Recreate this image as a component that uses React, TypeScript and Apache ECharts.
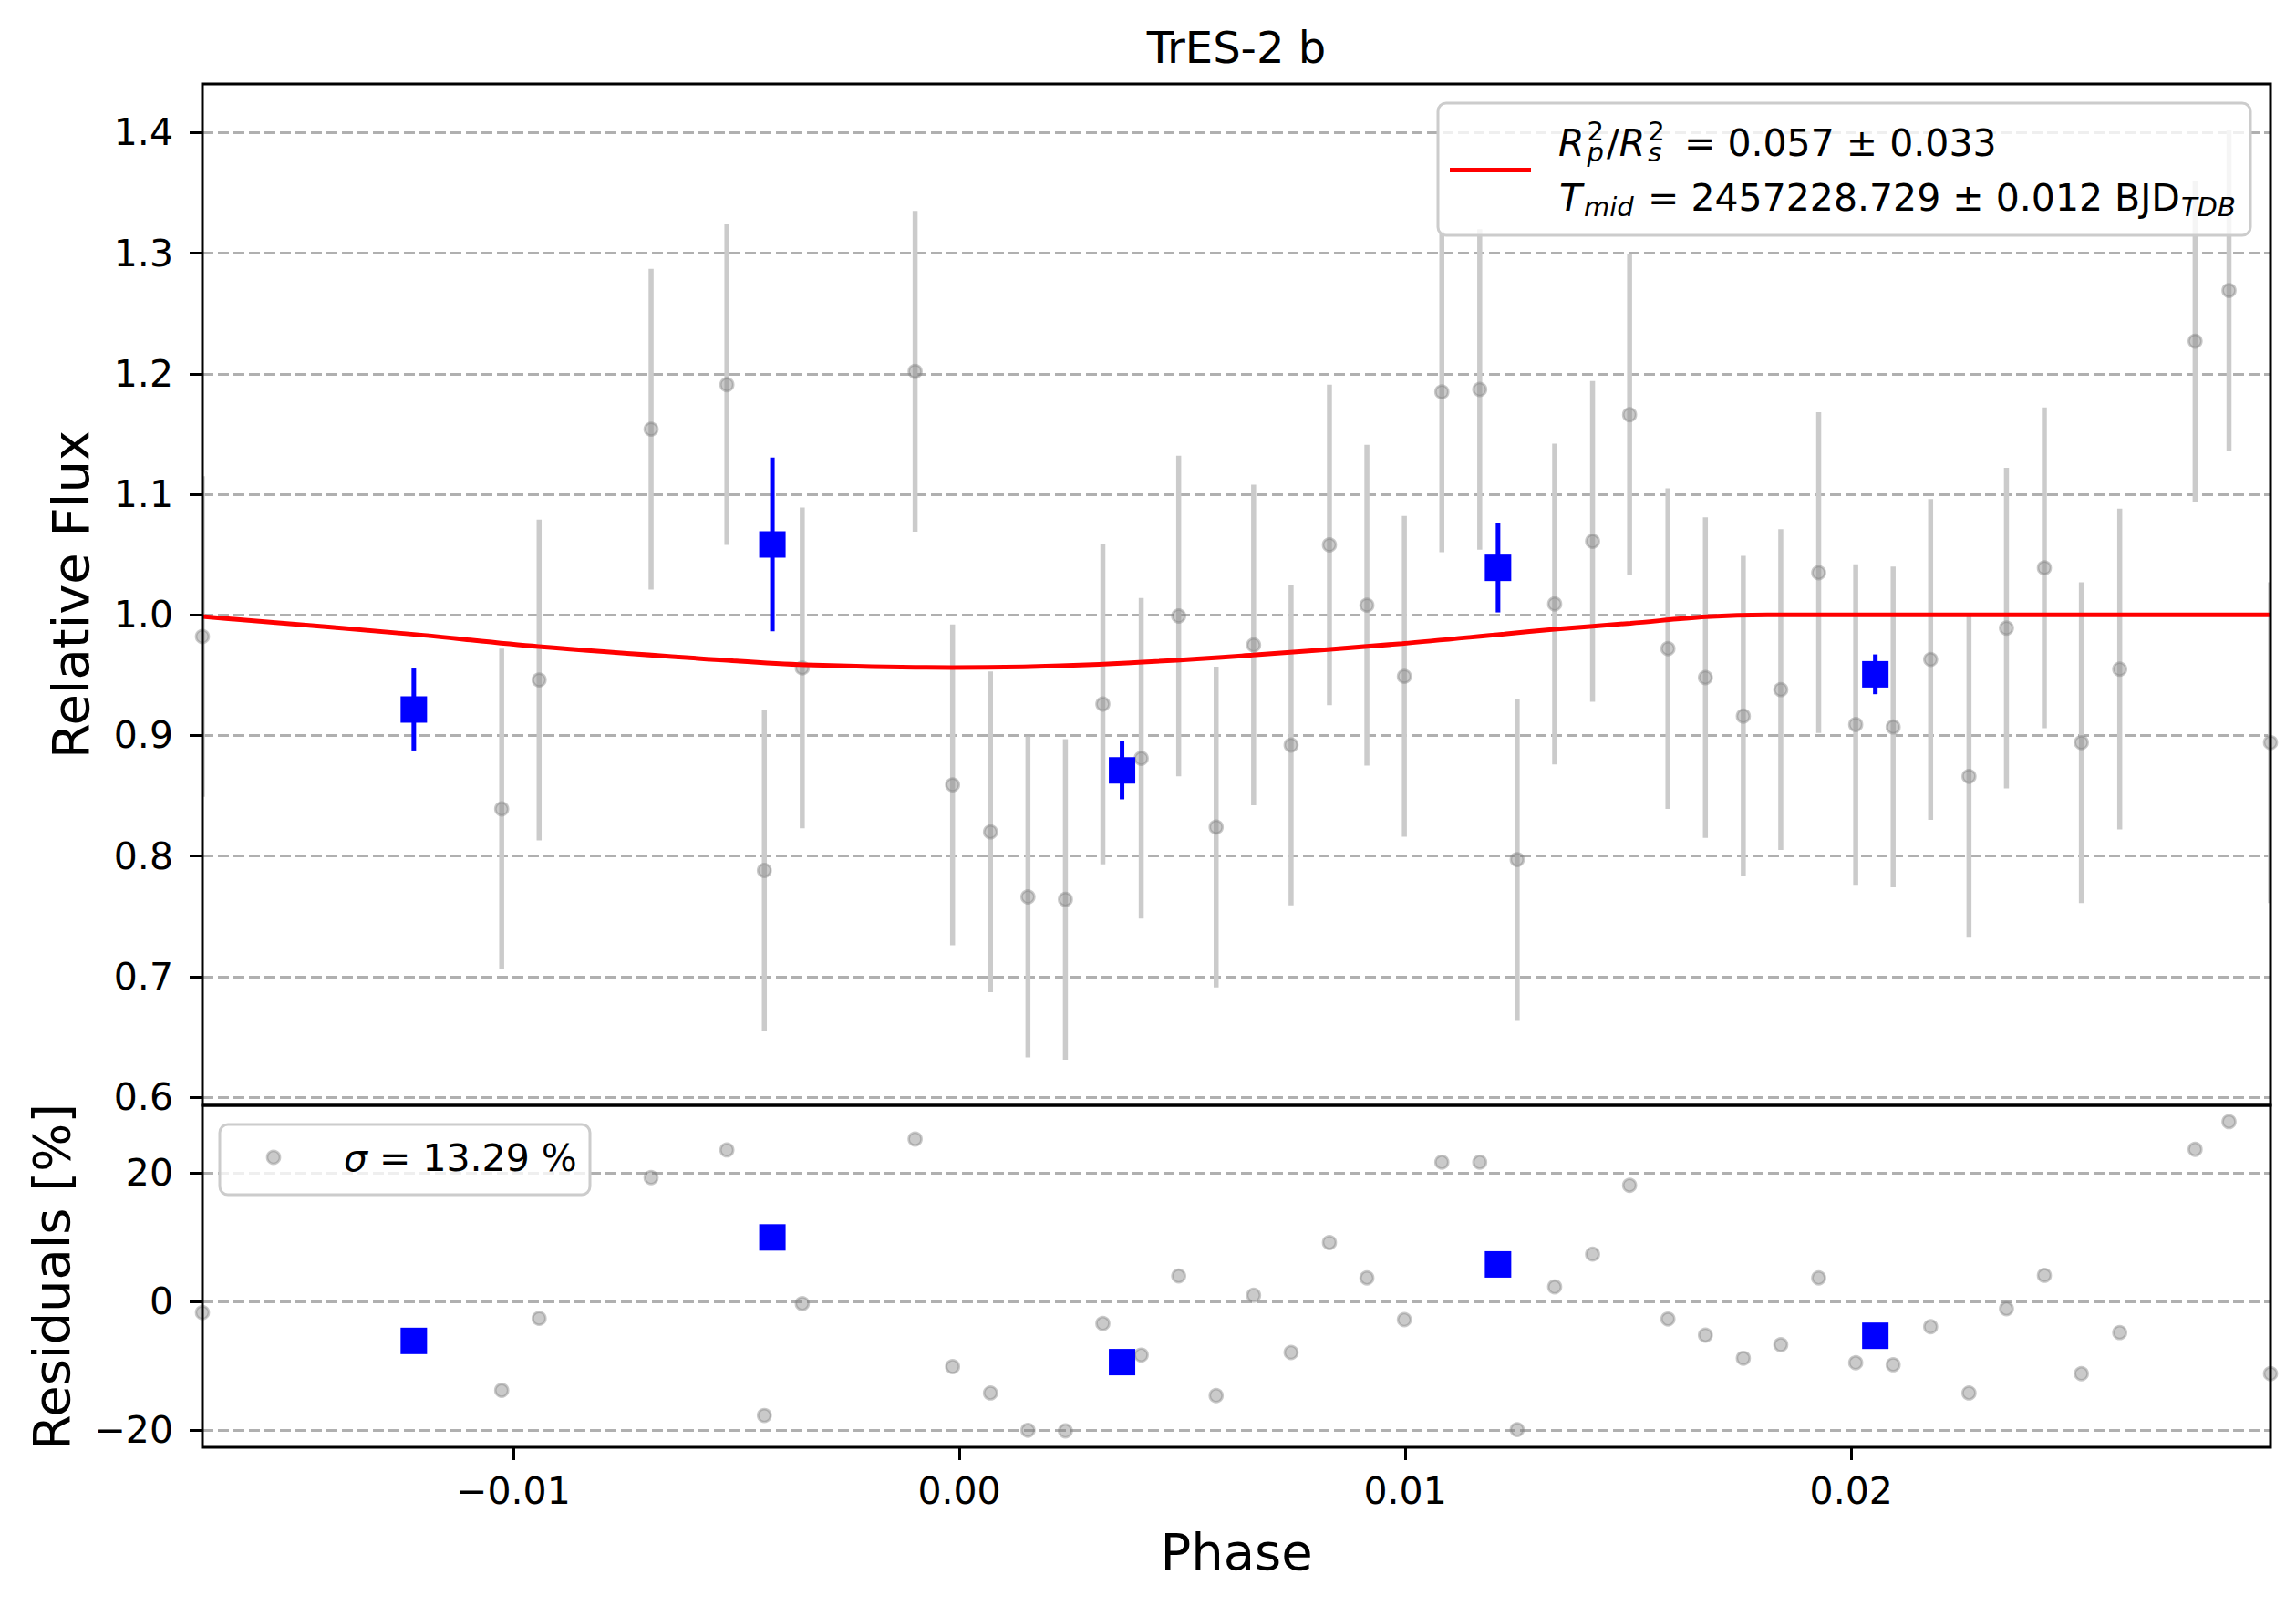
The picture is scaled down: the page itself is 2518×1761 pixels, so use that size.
import { useEffect, useRef } from 'react';
import * as echarts from 'echarts';

/**
 * TrES-2 b phase-folded light curve with residual panel.
 * Top: unbinned flux (grey), binned flux (blue), transit model (red).
 * Bottom: residuals in percent.
 */

const FONT = '"DejaVu Sans", sans-serif';

// unbinned exposures
const rawPhase = [
  -0.01697, -0.01026, -0.00942, -0.00691, -0.00521, -0.00437, -0.00352, -0.00099, -0.00015, 0.0007,
  0.00154, 0.00238, 0.00322, 0.00408, 0.00492, 0.00576, 0.0066, 0.00744, 0.0083, 0.00914,
  0.00998, 0.01082, 0.01167, 0.01251, 0.01335, 0.0142, 0.01503, 0.01589, 0.01673, 0.01758,
  0.01842, 0.01927, 0.0201, 0.02094, 0.02178, 0.02264, 0.02348, 0.02433, 0.02516, 0.02602,
  0.02771, 0.02847, 0.0294,
];
const rawFlux = [
  0.982, 0.839, 0.946, 1.154, 1.191, 0.788, 0.956, 1.202, 0.859, 0.82,
  0.766, 0.764, 0.926, 0.881, 0.999, 0.824, 0.975, 0.892, 1.058, 1.008,
  0.949, 1.185, 1.187, 0.797, 1.009, 1.061, 1.166, 0.972, 0.948, 0.916,
  0.938, 1.035, 0.909, 0.907, 0.963, 0.866, 0.989, 1.039, 0.894, 0.955,
  1.227, 1.269, 0.894,
];
const rawErr = 0.133;
const rawResid = [
  -1.7, -13.8, -2.6, 19.3, 23.6, -17.7, -0.3, 25.3, -10.1, -14.2,
  -20.0, -20.1, -3.4, -8.3, 4.0, -14.6, 1.0, -7.9, 9.2, 3.7,
  -2.8, 21.7, 21.7, -19.9, 2.3, 7.4, 18.1, -2.7, -5.2, -8.8,
  -6.7, 3.7, -9.5, -9.8, -3.9, -14.2, -1.1, 4.1, -11.2, -4.8,
  23.7, 28.0, -11.2,
];

// binned points
const binPhase = [-0.01223, -0.00419, 0.00365, 0.01208, 0.02054];
const binFlux = [0.9215, 1.0584, 0.871, 1.039, 0.9507];
const binErr = [0.034, 0.072, 0.024, 0.037, 0.0165];
const binResid = [-6.1, 10.0, -9.4, 5.8, -5.3];

// transit model
const modelPhase = [
  -0.01697, -0.01223, -0.00943, -0.00509, -0.00345, -0.00016, 0.00314, 0.00658,
  0.00993, 0.01222, 0.01335, 0.01505, 0.01675, 0.01812, 0.0294,
];
const modelFlux = [
  0.9986, 0.9838, 0.9737, 0.962, 0.9586, 0.9563, 0.959, 0.9666,
  0.9762, 0.9841, 0.988, 0.993, 0.9984, 1.0, 1.0,
];

const phaseTicks = [-0.01, 0, 0.01, 0.02];
const fluxTicks = [0.6, 0.7, 0.8, 0.9, 1.0, 1.1, 1.2, 1.3, 1.4];
const residTicks = [-20, 0, 20];

const PHASE_MIN = -0.01697;
const PHASE_MAX = 0.0294;
const FLUX_MIN = 0.5932;
const FLUX_MAX = 1.4404;
const RESID_MIN = -22.65;
const RESID_MAX = 30.54;

const TOP = { left: 222, top: 92, width: 2268, height: 1120 };
const BOT = { left: 222, top: 1212, width: 2268, height: 375 };

const GREY_FACE = 'rgba(128,128,128,0.42)';
const CENTRAL = 0.346; // em-box centre above the alphabetic baseline
const SMALL = 41; // 10pt text
const SCRIPT = 29; // mathtext sub/superscript

const minus = (s: string) => s.replace('-', '\u2212');

const fontOf = (size: number, italic?: boolean) =>
  `${italic ? 'italic ' : ''}${size}px ${FONT}`;

// text placed by its baseline
function label(text: string, x: number, baseline: number, size: number, italic = false, align = 'left') {
  return {
    type: 'text',
    x,
    y: baseline - CENTRAL * size,
    z: 60,
    style: {
      text,
      font: fontOf(size, italic),
      fill: '#000',
      align,
      verticalAlign: 'middle',
      lineHeight: size,
    },
  };
}

interface Seg {
  t?: string;
  size?: number;
  italic?: boolean;
  rise?: number;
  dx?: number;
  at?: number;
  // stacked superscript (upright) over italic subscript
  sup?: string;
  sub?: string;
  // one line of mixed upright / italic pieces
  mix?: [string, boolean][];
}

// poor man's mathtext: lays segments out left to right
function mathLine(segs: Seg[], x0: number, baseline: number, ctx: CanvasRenderingContext2D) {
  const out: any[] = [];
  let x = x0;
  segs.forEach((s) => {
    const start = s.at !== undefined ? s.at : x + (s.dx || 0);
    if (s.sup !== undefined && s.sub !== undefined) {
      ctx.font = fontOf(SCRIPT);
      const w1 = ctx.measureText(s.sup).width;
      ctx.font = fontOf(SCRIPT, true);
      const w2 = ctx.measureText(s.sub).width;
      const supBase = baseline - 17;
      const subBase = baseline + 6;
      const gap = subBase - supBase;
      const centre = (supBase + subBase) / 2 - CENTRAL * SCRIPT;
      const part = { fontSize: SCRIPT, fontFamily: FONT, lineHeight: gap, fill: '#000' };
      out.push({
        type: 'text',
        x: start,
        y: centre,
        z: 60,
        style: {
          text: `{a|${s.sup}}\n{b|${s.sub}}`,
          rich: { a: { ...part }, b: { ...part, fontStyle: 'italic' } },
          align: 'left',
          verticalAlign: 'middle',
        },
      });
      x = start + Math.max(w1, w2);
      return;
    }
    if (s.mix) {
      let w = 0;
      s.mix.forEach(([t, it]) => {
        ctx.font = fontOf(SMALL, it);
        w += ctx.measureText(t).width;
      });
      const part = { fontSize: SMALL, fontFamily: FONT, lineHeight: SMALL, fill: '#000' };
      out.push({
        type: 'text',
        x: start,
        y: baseline - CENTRAL * SMALL,
        z: 60,
        style: {
          text: s.mix.map(([t, it]) => `{${it ? 'i' : 'n'}|${t}}`).join(''),
          rich: { n: { ...part }, i: { ...part, fontStyle: 'italic' } },
          align: 'left',
          verticalAlign: 'middle',
        },
      });
      x = start + w;
      return;
    }
    const size = s.size || SMALL;
    ctx.font = fontOf(size, s.italic);
    const w = ctx.measureText(s.t || '').width;
    out.push(label(s.t || '', start, baseline - (s.rise || 0), size, !!s.italic));
    x = start + w;
  });
  return out;
}

const errorBars = (color: string, width: number) => (params: any, api: any) => {
  const x = api.value(0);
  const y = api.value(1);
  const e = api.value(2);
  const a = api.coord([x, y + e]);
  const b = api.coord([x, y - e]);
  return {
    type: 'line',
    shape: { x1: a[0], y1: a[1], x2: b[0], y2: b[1] },
    style: { stroke: color, lineWidth: width },
  };
};

export default function App() {
  const chartRef = useRef<HTMLDivElement>(null);

  useEffect(() => {
    if (!chartRef.current) return;
    const chart = echarts.init(chartRef.current, undefined, { renderer: 'svg' });

    const ctx = document.createElement('canvas').getContext('2d') as CanvasRenderingContext2D;

    const legendTop = [
      ...mathLine(
        [
          { t: 'R', italic: true },
          { sup: '2', sub: 'p', dx: 3 },
          { mix: [['/', false], ['R', true]], dx: 3 },
          { sup: '2', sub: 's', dx: 3 },
          { t: '= 0.057 \u00b1 0.033', at: 1847 },
        ],
        1709,
        171,
        ctx
      ),
      ...mathLine(
        [
          { t: 'T', italic: true },
          { t: 'mid', size: SCRIPT, italic: true, rise: -6, dx: 2 },
          { t: '= 2457228.729 \u00b1 0.012 BJD', at: 1807 },
          { t: 'TDB', size: SCRIPT, italic: true, rise: -6, dx: 1 },
        ],
        1710,
        231,
        ctx
      ),
    ];

    const legendBottom = mathLine(
      [{ mix: [['\u03c3', true], [' = 13.29 %', false]] }],
      377,
      1284,
      ctx
    );

    const rawTop = rawPhase.map((p, i) => [p, rawFlux[i], rawErr]);
    const binTop = binPhase.map((p, i) => [p, binFlux[i], binErr[i]]);

    const tickStyle = { color: '#000', width: 3 };
    const gridLine = { show: true, lineStyle: { color: '#b0b0b0', width: 3, type: [12, 5] } };
    const tickFont = { color: '#000', fontSize: SMALL, fontFamily: FONT };
    const greyDot = { color: GREY_FACE, borderColor: GREY_FACE, borderWidth: 2.7, opacity: 1 };
    const blueSquare = { color: '#0000ff', opacity: 1 };

    const option: any = {
      animation: false,
      backgroundColor: '#ffffff',
      grid: [
        { ...TOP, containLabel: false, outerBoundsMode: 'none' },
        { ...BOT, containLabel: false, outerBoundsMode: 'none' },
      ],
      xAxis: [
        { type: 'value', gridIndex: 0, min: PHASE_MIN, max: PHASE_MAX, show: false },
        {
          type: 'value',
          gridIndex: 1,
          min: PHASE_MIN,
          max: PHASE_MAX,
          position: 'bottom',
          axisLine: { show: false, onZero: false },
          axisTick: { show: true, customValues: phaseTicks, length: 14, lineStyle: tickStyle },
          axisLabel: {
            ...tickFont,
            customValues: phaseTicks,
            margin: 27,
            formatter: (v: number) => minus(v.toFixed(2)),
          },
          splitLine: { show: false },
        },
      ],
      yAxis: [
        {
          type: 'value',
          gridIndex: 0,
          min: FLUX_MIN,
          max: FLUX_MAX,
          position: 'left',
          axisLine: { show: false, onZero: false },
          axisTick: { show: true, customValues: fluxTicks, length: 14, lineStyle: tickStyle },
          axisLabel: {
            ...tickFont,
            customValues: fluxTicks,
            margin: 32,
            formatter: (v: number) => v.toFixed(1),
          },
          splitLine: gridLine,
        },
        {
          type: 'value',
          gridIndex: 1,
          min: RESID_MIN,
          max: RESID_MAX,
          position: 'left',
          axisLine: { show: false, onZero: false },
          axisTick: { show: true, customValues: residTicks, length: 14, lineStyle: tickStyle },
          axisLabel: {
            ...tickFont,
            customValues: residTicks,
            margin: 32,
            formatter: (v: number) => minus(String(Math.round(v))),
          },
          splitLine: gridLine,
        },
      ],
      series: [
        {
          type: 'custom',
          xAxisIndex: 0,
          yAxisIndex: 0,
          clip: true,
          data: rawTop,
          encode: { x: 0, y: 1 },
          renderItem: errorBars('#cbcbcb', 5.5),
          silent: true,
        },
        {
          type: 'scatter',
          xAxisIndex: 0,
          yAxisIndex: 0,
          data: rawTop.map((d) => [d[0], d[1]]),
          symbol: 'circle',
          symbolSize: 14,
          itemStyle: greyDot,
          silent: true,
        },
        {
          type: 'custom',
          xAxisIndex: 0,
          yAxisIndex: 0,
          clip: true,
          data: binTop,
          encode: { x: 0, y: 1 },
          renderItem: errorBars('#0000ff', 5),
          silent: true,
        },
        {
          type: 'scatter',
          xAxisIndex: 0,
          yAxisIndex: 0,
          data: binTop.map((d) => [d[0], d[1]]),
          symbol: 'rect',
          symbolSize: 29,
          itemStyle: blueSquare,
          silent: true,
        },
        {
          type: 'line',
          xAxisIndex: 0,
          yAxisIndex: 0,
          data: modelPhase.map((p, i) => [p, modelFlux[i]]),
          showSymbol: false,
          smooth: 0.35,
          lineStyle: { color: '#ff0000', width: 5, opacity: 1 },
          silent: true,
          z: 4,
        },
        {
          type: 'scatter',
          xAxisIndex: 1,
          yAxisIndex: 1,
          data: rawPhase.map((p, i) => [p, rawResid[i]]),
          symbol: 'circle',
          symbolSize: 14,
          itemStyle: greyDot,
          silent: true,
        },
        {
          type: 'scatter',
          xAxisIndex: 1,
          yAxisIndex: 1,
          data: binPhase.map((p, i) => [p, binResid[i]]),
          symbol: 'rect',
          symbolSize: 29,
          itemStyle: blueSquare,
          silent: true,
        },
      ],
      graphic: [
        // axes frames
        {
          type: 'rect',
          z: 55,
          shape: { x: TOP.left, y: TOP.top, width: TOP.width, height: TOP.height },
          style: { fill: 'none', stroke: '#000', lineWidth: 3 },
          silent: true,
        },
        {
          type: 'rect',
          z: 55,
          shape: { x: BOT.left, y: BOT.top, width: BOT.width, height: BOT.height },
          style: { fill: 'none', stroke: '#000', lineWidth: 3 },
          silent: true,
        },
        // title and axis names
        label('TrES-2 b', 1356, 69, 48, false, 'center'),
        label('Phase', 1356, 1721, 56, false, 'center'),
        {
          type: 'text',
          x: 97 - CENTRAL * 56,
          y: 652,
          rotation: Math.PI / 2,
          z: 60,
          style: { text: 'Relative Flux', font: fontOf(56), fill: '#000', align: 'center', verticalAlign: 'middle' },
        },
        {
          type: 'text',
          x: 76 - CENTRAL * 56,
          y: 1400,
          rotation: Math.PI / 2,
          z: 60,
          style: { text: 'Residuals [%]', font: fontOf(56), fill: '#000', align: 'center', verticalAlign: 'middle' },
        },
        // model legend
        {
          type: 'rect',
          z: 58,
          shape: { x: 1577, y: 113, width: 891, height: 145, r: 9 },
          style: { fill: 'rgba(255,255,255,0.8)', stroke: '#cccccc', lineWidth: 3 },
          silent: true,
        },
        {
          type: 'line',
          z: 59,
          shape: { x1: 1590, y1: 186.5, x2: 1679, y2: 186.5 },
          style: { stroke: '#ff0000', lineWidth: 5 },
          silent: true,
        },
        ...legendTop,
        // residual legend
        {
          type: 'rect',
          z: 58,
          shape: { x: 241, y: 1233, width: 406, height: 77, r: 9 },
          style: { fill: 'rgba(255,255,255,0.8)', stroke: '#cccccc', lineWidth: 3 },
          silent: true,
        },
        {
          type: 'circle',
          z: 59,
          shape: { cx: 300, cy: 1269, r: 7 },
          style: { fill: GREY_FACE, stroke: GREY_FACE, lineWidth: 2.7 },
          silent: true,
        },
        ...legendBottom,
      ],
    };

    chart.setOption(option);

    return () => {
      chart.dispose();
    };
  }, []);

  return (
    <div
      ref={chartRef}
      style={{ position: 'absolute', left: 0, top: 0, width: 2518, height: 1761, background: '#fff' }}
    />
  );
}
